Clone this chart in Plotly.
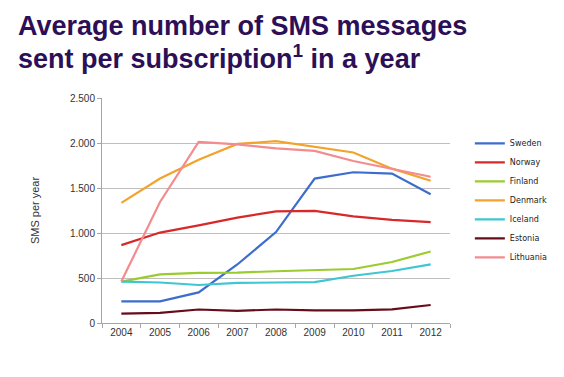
import plotly.graph_objects as go

years = ["2004", "2005", "2006", "2007", "2008", "2009", "2010", "2011", "2012"]
sweden = [240, 240, 340, 650, 1010, 1605, 1675, 1660, 1430]
norway = [865, 1005, 1085, 1170, 1240, 1245, 1185, 1145, 1120]
finland = [460, 540, 558, 560, 575, 585, 600, 678, 795]
denmark = [1335, 1605, 1815, 1990, 2020, 1955, 1895, 1715, 1580]
iceland = [460, 450, 422, 445, 450, 455, 525, 578, 652]
estonia = [105, 112, 150, 135, 150, 140, 140, 152, 200]
lithuania = [460, 1345, 2012, 1985, 1940, 1912, 1800, 1710, 1625]

series = [
    ("Sweden", sweden, "#3D6DCC"),
    ("Norway", norway, "#D7282A"),
    ("Finland", finland, "#9BCB2E"),
    ("Denmark", denmark, "#F2A32C"),
    ("Iceland", iceland, "#3EC6D2"),
    ("Estonia", estonia, "#660D1C"),
    ("Lithuania", lithuania, "#F38C8E"),
]

fig = go.Figure()
for name, vals, col in series:
    fig.add_trace(go.Scatter(x=years, y=vals, name=name, mode="lines",
                             line=dict(color=col, width=2.2)))

# the page body adds an 8px offset, so the figure margins are reduced by 8px
fig.update_layout(
    width=564, height=377,
    paper_bgcolor="white", plot_bgcolor="white",
    margin=dict(l=94, r=122, t=90, b=62),
    separators=",.",
    font=dict(family="Liberation Sans, Arial, sans-serif", color="#333333"),
    showlegend=True,
    legend=dict(x=1.057, y=0.863, xanchor="left", yanchor="top",
                font=dict(size=8, color="#222222", family="DejaVu Sans, sans-serif"),
                tracegroupgap=0, itemwidth=30, bgcolor="rgba(0,0,0,0)"),
)
fig.add_annotation(text="<b>Average number of SMS messages</b>", xref="paper", yref="paper",
                   x=-86/348, y=1 + (98 - 9)/225, xanchor="left", yanchor="top",
                   showarrow=False, font=dict(size=27, color="#2C0F57",
                                              family="Liberation Sans, Arial, sans-serif"))
fig.add_annotation(text="<b>sent per subscription<sup>1</sup> in a year</b>", xref="paper", yref="paper",
                   x=-86/348, y=1 + (98 - 38)/225, xanchor="left", yanchor="top",
                   showarrow=False, font=dict(size=27, color="#2C0F57",
                                              family="Liberation Sans, Arial, sans-serif"))

fig.update_xaxes(type="category", range=[-0.5, 8.5], showgrid=False, showline=True, linecolor="#A6A6A6",
                 ticks="outside", tickson="boundaries", ticklen=4, tickcolor="#A6A6A6",
                 tickfont=dict(size=10, color="#333333"), automargin=False)
fig.update_yaxes(range=[0, 2500], dtick=500, tickformat=",", showgrid=True, gridcolor="#BFBFBF",
                 gridwidth=1, showline=True, linecolor="#A6A6A6", ticks="outside", ticklen=4,
                 tickcolor="#A6A6A6", tickfont=dict(size=10, color="#333333"),
                 title=dict(text="SMS per year", font=dict(size=11, color="#333333"), standoff=28),
                 zeroline=False, automargin=False)

fig.write_html("out.html")
